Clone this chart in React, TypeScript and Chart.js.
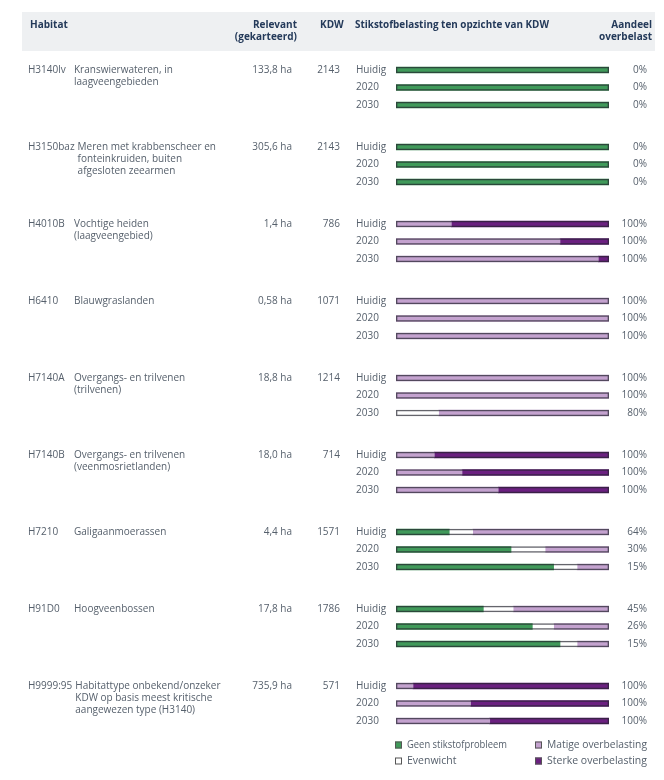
import React, { useEffect, useRef } from 'react';
import { Chart, registerables } from 'chart.js';
Chart.register(...registerables);

const codes = ['H3140lv', 'H3150baz', 'H4010B', 'H6410', 'H7140A', 'H7140B', 'H7210', 'H91D0', 'H9999:95'];
const names = [
  ['Kranswierwateren, in', 'laagveengebieden'],
  ['Meren met krabbenscheer en', 'fonteinkruiden, buiten', 'afgesloten zeearmen'],
  ['Vochtige heiden', '(laagveengebied)'],
  ['Blauwgraslanden'],
  ['Overgangs- en trilvenen', '(trilvenen)'],
  ['Overgangs- en trilvenen', '(veenmosrietlanden)'],
  ['Galigaanmoerassen'],
  ['Hoogveenbossen'],
  ['Habitattype onbekend/onzeker', 'KDW op basis meest kritische', 'aangewezen type (H3140)'],
];
const relevant = ['133,8 ha', '305,6 ha', '1,4 ha', '0,58 ha', '18,8 ha', '18,0 ha', '4,4 ha', '17,8 ha', '735,9 ha'];
const kdw = ['2143', '2143', '786', '1071', '1214', '714', '1571', '1786', '571'];
const years = ['Huidig', '2020', '2030'];

// one value per habitat x year (Huidig, 2020, 2030)
const geen = [100, 100, 100, 100, 100, 100, 0, 0, 0, 0, 0, 0, 0, 0, 0, 0, 0, 0, 25, 54, 74, 41, 64, 77, 0, 0, 0];
const evenwicht = [0, 0, 0, 0, 0, 0, 0, 0, 0, 0, 0, 0, 0, 0, 20, 0, 0, 0, 11, 16, 11, 14, 10, 8, 0, 0, 0];
const matig = [0, 0, 0, 0, 0, 0, 26, 77, 95, 100, 100, 100, 100, 100, 80, 18, 31, 48, 64, 30, 15, 45, 26, 15, 8, 35, 44];
const sterk = [0, 0, 0, 0, 0, 0, 74, 23, 5, 0, 0, 0, 0, 0, 0, 82, 69, 52, 0, 0, 0, 0, 0, 0, 92, 65, 56];
const aandeel = ['0%', '0%', '0%', '0%', '0%', '0%', '100%', '100%', '100%', '100%', '100%', '100%', '100%', '100%', '80%', '100%', '100%', '100%', '64%', '30%', '15%', '45%', '26%', '15%', '100%', '100%', '100%'];

const seriesNames = ['Geen stikstofprobleem', 'Evenwicht', 'Matige overbelasting', 'Sterke overbelasting'];
const seriesColors = ['#409a5a', '#ffffff', '#c4a2cf', '#6b2080'];

const GROUP_GAP = 4.4;
const FONT = '"Open Sans", "Noto Sans", sans-serif';
const HEAD_COLOR = '#243a5a';
const TEXT_COLOR = '#56606c';

const rowPos = (i: number) => Math.floor(i / 3) * GROUP_GAP + (i % 3);

const tablePlugin = {
  id: 'tableText',
  beforeDraw(chart: any) {
    const ctx = chart.ctx;
    ctx.save();
    ctx.fillStyle = '#eef0f2';
    ctx.fillRect(22, 12, 633, 39);
    ctx.fillStyle = HEAD_COLOR;
    ctx.font = `bold 10px ${FONT}`;
    ctx.textBaseline = 'middle';
    ctx.textAlign = 'left';
    ctx.fillText('Habitat', 30, 25);
    ctx.fillText('KDW', 320, 25);
    ctx.fillText('Stikstofbelasting ten opzichte van KDW', 355, 25, 194);
    ctx.textAlign = 'right';
    ctx.fillText('Relevant', 297, 25);
    ctx.fillText('(gekarteerd)', 297, 37);
    ctx.fillText('Aandeel', 652, 25);
    ctx.fillText('overbelast', 652, 37);
    ctx.restore();
  },
  afterDraw(chart: any) {
    const ctx = chart.ctx;
    const y = chart.scales.y;
    const x = chart.scales.x;
    ctx.save();
    ctx.fillStyle = TEXT_COLOR;
    ctx.font = `10px ${FONT}`;
    ctx.textBaseline = 'middle';
    codes.forEach((code, g) => {
      const py = y.getPixelForValue(g * GROUP_GAP);
      ctx.textAlign = 'left';
      const cw = ctx.measureText(code).width;
      ctx.fillText(code, 28, py);
      const nx = Math.max(74, 28 + cw + 3);
      names[g].forEach((line, j) => ctx.fillText(line, nx, py + j * 12));
      ctx.textAlign = 'right';
      ctx.fillText(relevant[g], 292, py);
      ctx.fillText(kdw[g], 340, py);
    });
    aandeel.forEach((lab, i) => {
      const py = y.getPixelForValue(rowPos(i));
      ctx.textAlign = 'left';
      ctx.fillText(years[i % 3], 356, py);
      ctx.textAlign = 'right';
      ctx.fillText(lab, x.right + 38, py);
    });
    // legend
    const legendPos = [[0, 0], [0, 1], [1, 0], [1, 1]];
    const order = [0, 2, 1, 3];
    ctx.font = `10.5px ${FONT}`;
    order.forEach((s, k) => {
      const [row, col] = legendPos[k];
      const lx = 395 + col * 140;
      const ly = 745 + row * 16;
      ctx.fillStyle = seriesColors[s];
      ctx.fillRect(lx, ly - 3.5, 7, 7);
      ctx.strokeStyle = '#555';
      ctx.lineWidth = 1;
      ctx.strokeRect(lx + 0.5, ly - 3, 6, 6);
      ctx.fillStyle = TEXT_COLOR;
      ctx.textAlign = 'left';
      ctx.fillText(seriesNames[s], lx + 12, ly, 100);
    });
    ctx.restore();
  },
};

export default function App() {
  const ref = useRef<HTMLCanvasElement>(null);
  useEffect(() => {
    document.body.style.margin = '0';
    const series = [geen, evenwicht, matig, sterk];
    const datasets: any[] = series.map((vals, s) => {
      const data: any[] = [];
      vals.forEach((v, i) => {
        let start = 0;
        for (let k = 0; k < s; k++) start += series[k][i];
        if (v > 0) data.push({ x: [start, start + v], y: rowPos(i) });
      });
      return {
        label: seriesNames[s],
        data,
        backgroundColor: seriesColors[s],
        borderWidth: 0,
        barThickness: 6,
        grouped: false,
        order: 2,
      };
    });
    datasets.push({
      label: 'frame',
      data: geen.map((_, i) => ({ x: [0, 100], y: rowPos(i) })),
      backgroundColor: 'rgba(0,0,0,0)',
      borderColor: 'rgba(35,35,45,0.7)',
      borderWidth: 1,
      borderSkipped: false,
      barThickness: 6,
      grouped: false,
      order: 1,
    });
    const minV = -0.5;
    const maxV = 8 * GROUP_GAP + 2 + 0.5;
    const unit = 17.5;
    const top = 70 + minV * unit;
    const bottom = 780 - (top + (maxV - minV) * unit);
    const chart = new Chart(ref.current!, {
      type: 'bar',
      data: { datasets },
      options: {
        indexAxis: 'y',
        animation: false,
        responsive: false,
        layout: { padding: { left: 396, right: 55, top, bottom } },
        scales: {
          x: { type: 'linear', min: 0, max: 100, display: false },
          y: { type: 'linear', min: minV, max: maxV, reverse: true, offset: false, display: false },
        },
        plugins: { legend: { display: false }, tooltip: { enabled: false } },
      },
      plugins: [tablePlugin],
    } as any);
    return () => chart.destroy();
  }, []);
  return <canvas ref={ref} width={664} height={780} style={{ display: 'block' }} />;
}
